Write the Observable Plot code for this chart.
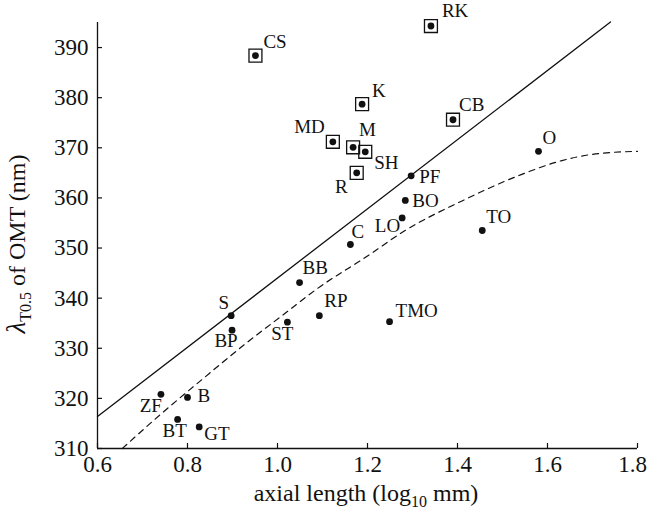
<!DOCTYPE html>
<html><head><meta charset="utf-8">
<script src="https://cdn.jsdelivr.net/npm/d3@7"></script>
<script src="https://cdn.jsdelivr.net/npm/@observablehq/plot@0.6"></script>
<style>
body{margin:0;background:#fff}
svg{font-family:"Liberation Serif","Times New Roman",serif;overflow:visible}
</style>
</head><body><div id="chart"></div>
<script>
// species codes, axial length (log10 mm), lambda T0.5 of OMT (nm)
const species     = ["CS","RK","K","CB","MD","M","SH","R","PF","BO","LO","C","TO","O","BB","S","BP","ST","RP","TMO","ZF","B","BT","GT"];
const axialLength = [0.951,1.341,1.188,1.390,1.123,1.168,1.195,1.176,1.297,1.284,1.277,1.162,1.455,1.580,1.049,0.897,0.899,1.022,1.093,1.249,0.741,0.800,0.778,0.826];
const lambda      = [388.4,394.3,378.7,375.6,371.2,370.1,369.2,365.0,364.4,359.5,356.0,350.7,353.5,369.3,343.1,336.5,333.6,335.2,336.5,335.3,320.8,320.2,315.8,314.3];
const boxedSpecies = ["CS","RK","K","CB","MD","M","SH","R"];

// solid regression line (endpoints)
const fitX = [0.6, 1.74];
const fitY = [316.4, 395.1];

// dashed curve
const curveX = [0.655,0.74,0.83,0.94,1.01,1.09,1.20,1.28,1.41,1.54,1.63,1.70,1.80];
const curveY = [310.0,316.8,323.6,331.7,336.5,342.0,348.4,353.3,359.4,364.6,367.4,368.7,369.3];

const xTicks = [0.6,0.8,1.0,1.2,1.4,1.6,1.8];
const yTicks = [310,320,330,340,350,360,370,380,390];

// label placement (dx, dy in px, anchor)
const labelPlacement = {
  CS:[8,-14,"start"], RK:[11,-15,"start"], K:[10,-13.5,"start"], CB:[6,-15,"start"],
  MD:[-8,-15,"end"], M:[6,-17,"start"], SH:[9,11,"start"], R:[-9,14,"end"],
  PF:[8,1,"start"], BO:[7,0,"start"], LO:[-2,8,"end"], C:[1,-13,"start"],
  TO:[4,-14,"start"], O:[4,-13,"start"], BB:[3,-15,"start"], S:[-2,-12.5,"end"],
  BP:[-6,11,"middle"], ST:[-5,12,"middle"], RP:[5,-15,"start"], TMO:[6,-11,"start"],
  ZF:[1,12,"end"], B:[10,-1.7,"start"], BT:[-3,11,"middle"], GT:[5,7,"start"]
};

const points = species.map((s,i)=>({s, x:axialLength[i], y:lambda[i]}));
const boxedPts = points.filter(p=>boxedSpecies.includes(p.s));
const fit = fitX.map((x,i)=>({x, y:fitY[i]}));
const curve = curveX.map((x,i)=>({x, y:curveY[i]}));
const lastX = xTicks[xTicks.length-1];

const labelMarks = points.map(p=>{
  const [dx,dy,anchor] = labelPlacement[p.s];
  return Plot.text([p], {x:"x", y:"y", text:"s", dx, dy, textAnchor:anchor, lineAnchor:"middle", fontSize:19, fill:"#111"});
});

const fmt = d3.format(".1f");
const plot = Plot.plot({
  width:649, height:518,
  marginLeft:97, marginRight:12, marginTop:22, marginBottom:70,
  style:{fontFamily:'"Liberation Serif","Times New Roman",serif', background:"#fff", color:"#111", overflow:"visible"},
  x:{domain:[0.6,1.8]},
  y:{domain:[310,395]},
  marks:[
    Plot.axisX({ticks:xTicks, tickFormat:d=> d===lastX ? "" : fmt(d), tickSize:-5, tickPadding:12, fontSize:23, label:null, strokeWidth:1.2}),
    Plot.text([lastX], {x:d=>d, frameAnchor:"bottom", dy:7, dx:-5, lineAnchor:"top", text:d=>fmt(d), fontSize:23, fill:"#111"}),
    Plot.axisY({ticks:yTicks, tickSize:-5, tickPadding:14, fontSize:23, label:null, strokeWidth:1.2}),
    Plot.ruleX([0.6], {stroke:"#111", strokeWidth:1.3}),
    Plot.ruleY([310], {stroke:"#111", strokeWidth:1.3}),
    Plot.line(fit, {x:"x", y:"y", stroke:"#111", strokeWidth:1.3}),
    Plot.line(curve, {x:"x", y:"y", stroke:"#111", strokeWidth:1.2, strokeDasharray:"6,5", curve:"monotone-x"}),
    Plot.dot(boxedPts, {x:"x", y:"y", symbol:"square", r:7.3, fill:"none", stroke:"#111", strokeWidth:1.3}),
    Plot.dot(points, {x:"x", y:"y", r:3.4, fill:"#111"}),
    ...labelMarks
  ]
});

const svg = d3.select(plot);
// x axis label with subscript
const xl = svg.append("text").attr("x",366).attr("y",501).attr("text-anchor","middle")
  .attr("font-size",24).attr("fill","#111");
xl.append("tspan").text("axial length (log");
xl.append("tspan").attr("font-size",16).attr("dy",6).text("10");
xl.append("tspan").attr("dy",-6).text(" mm)");
// y axis label with subscript
const yl = svg.append("text").attr("transform","translate(25,244) rotate(-90)").attr("text-anchor","middle")
  .attr("font-size",24).attr("fill","#111");
yl.append("tspan").attr("font-style","italic").attr("font-size",27).text("λ");
yl.append("tspan").attr("font-size",16).attr("dy",6).text("T0.5");
yl.append("tspan").attr("dy",-6).text(" of OMT (nm)");

document.getElementById("chart").appendChild(plot);
</script>
</body></html>
